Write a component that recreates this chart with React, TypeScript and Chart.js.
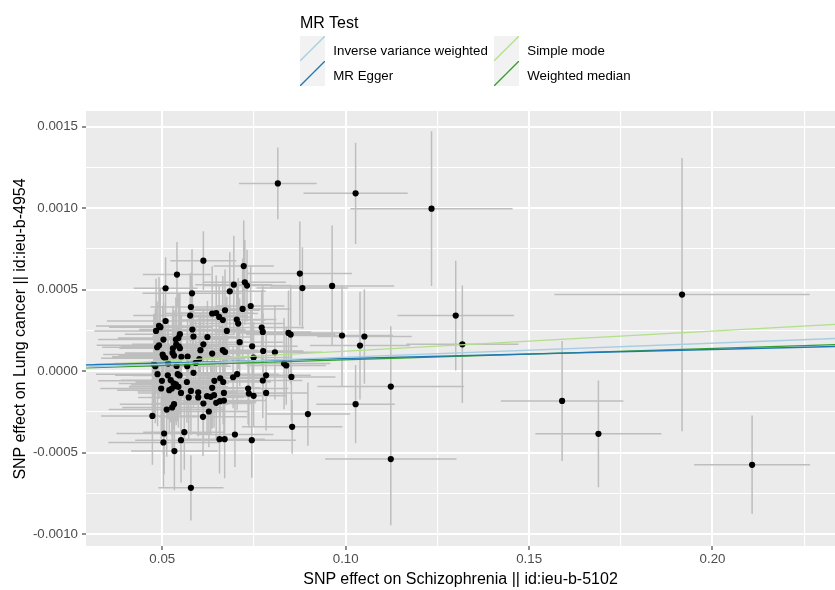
import React, { useEffect, useRef } from "react";
import { Chart, registerables } from "chart.js";

Chart.register(...registerables);

// SNP effects on exposure (Schizophrenia) and outcome (Lung cancer)
const snpX = [
  0.0612, 0.0540, 0.0509, 0.0722, 0.0695, 0.0684, 0.0725, 0.0731, 0.0581, 0.0578,
  0.0671, 0.0636, 0.0647, 0.0655, 0.0665, 0.0719, 0.0741, 0.0576, 0.0509, 0.0703,
  0.0707, 0.0491, 0.0495, 0.0483, 0.0676, 0.0582, 0.0771, 0.0774, 0.0844, 0.0850,
  0.0548, 0.0544, 0.0623, 0.0585, 0.0503, 0.0537, 0.0538, 0.0545, 0.0548, 0.0711,
  0.0612, 0.0491, 0.0486, 0.0745, 0.0529, 0.0604, 0.0665, 0.0671, 0.0807, 0.0775,
  0.0501, 0.0503, 0.0508, 0.0528, 0.0532, 0.0636, 0.0552, 0.0569, 0.0601, 0.0749,
  0.0477, 0.0481, 0.0516, 0.0539, 0.0568, 0.0591, 0.0832, 0.0838, 0.0487, 0.0515,
  0.0542, 0.0547, 0.0585, 0.0499, 0.0523, 0.0531, 0.0537, 0.0567, 0.0642, 0.0658,
  0.0666, 0.0693, 0.0704, 0.0774, 0.0783, 0.0852, 0.0497, 0.0519, 0.0526, 0.0538,
  0.0544, 0.0551, 0.0578, 0.0598, 0.0622, 0.0632, 0.0641, 0.0668, 0.0636, 0.0734,
  0.0736, 0.0749, 0.0783, 0.0572, 0.0598, 0.0647, 0.0657, 0.0668, 0.0612, 0.0532,
  0.0527, 0.0627, 0.0512, 0.0611, 0.0473, 0.0505, 0.0503, 0.0560, 0.0551, 0.0533,
  0.0656, 0.0670, 0.0698, 0.0744, 0.0578,
  0.0815, 0.1027, 0.1234, 0.1300, 0.1318, 0.0990, 0.1051, 0.1039, 0.1123, 0.1123,
  0.1027, 0.0897, 0.0963, 0.0875, 0.0882, 0.1917, 0.1590, 0.1689, 0.2108, 0.0854,
];

const snpY = [
  0.000678, 0.000593, 0.000509, 0.000645, 0.000531, 0.000490, 0.000545, 0.000525, 0.000478, 0.000394,
  0.000374, 0.000354, 0.000357, 0.000333, 0.000314, 0.000382, 0.000400, 0.000341, 0.000308, 0.000317,
  0.000292, 0.000278, 0.000270, 0.000247, 0.000247, 0.000256, 0.000268, 0.000241, 0.000235, 0.000225,
  0.000227, 0.000204, 0.000210, 0.000213, 0.000194, 0.000194, 0.000165, 0.000153, 0.000141, 0.000178,
  0.000165, 0.000159, 0.000147, 0.000153, 0.000141, 0.000129, 0.000129, 0.000118, 0.000116, 0.000124,
  0.000102, 0.000088, 0.000080, 0.000112, 0.000096, 0.000108, 0.000088, 0.000090, 0.000075, 0.000084,
  0.000043, 0.000031, 0.000047, 0.000032, 0.000031, 0.000051, 0.000047, 0.000035, -0.000018, -0.000025,
  -0.000018, -0.000026, -0.000010, -0.000059, -0.000055, -0.000075, -0.000081, -0.000066, -0.000059, -0.000043,
  -0.000066, -0.000037, -0.000018, -0.000057, -0.000025, -0.000035, -0.000106, -0.000116, -0.000106, -0.000092,
  -0.000096, -0.000133, -0.000121, -0.000129, -0.000153, -0.000157, -0.000147, -0.000133, -0.000102, -0.000106,
  -0.000137, -0.000151, -0.000133, -0.000161, -0.000161, -0.000194, -0.000184, -0.000180, -0.000198, -0.000202,
  -0.000222, -0.000247, -0.000235, -0.000280, -0.000274, -0.000382, -0.000437, -0.000374, -0.000423, -0.000490,
  -0.000417, -0.000417, -0.000388, -0.000423, -0.000715,
  0.001152, 0.001091, 0.000997, 0.000341, 0.000165, 0.000219, 0.000213, 0.000157, -0.000094, -0.000539,
  -0.000202, -0.000263, 0.000523, 0.000599, 0.000510, 0.000470, -0.000182, -0.000384, -0.000574, -0.000341,
];

const seX = [
  0.0090, 0.0093, 0.0087, 0.0082, 0.0105, 0.0098, 0.0112, 0.0120, 0.0135, 0.0110,
  0.0095, 0.0125, 0.0102, 0.0088, 0.0118, 0.0130, 0.0092, 0.0155, 0.0160, 0.0108,
  0.0126, 0.0172, 0.0140, 0.0168, 0.0100, 0.0145, 0.0115, 0.0132, 0.0140, 0.0122,
  0.0150, 0.0165, 0.0128, 0.0112, 0.0178, 0.0142, 0.0120, 0.0158, 0.0136, 0.0118,
  0.0104, 0.0170, 0.0150, 0.0124, 0.0146, 0.0112, 0.0096, 0.0134, 0.0128, 0.0110,
  0.0162, 0.0140, 0.0175, 0.0130, 0.0152, 0.0106, 0.0138, 0.0116, 0.0125, 0.0098,
  0.0160, 0.0180, 0.0148, 0.0132, 0.0119, 0.0140, 0.0126, 0.0108, 0.0168, 0.0144,
  0.0155, 0.0128, 0.0112, 0.0174, 0.0136, 0.0150, 0.0122, 0.0140, 0.0100, 0.0118,
  0.0130, 0.0094, 0.0114, 0.0108, 0.0122, 0.0120, 0.0166, 0.0142, 0.0156, 0.0128,
  0.0135, 0.0118, 0.0146, 0.0104, 0.0120, 0.0112, 0.0096, 0.0125, 0.0132, 0.0110,
  0.0102, 0.0090, 0.0114, 0.0138, 0.0124, 0.0108, 0.0100, 0.0116, 0.0130, 0.0148,
  0.0136, 0.0110, 0.0158, 0.0120, 0.0140, 0.0130, 0.0150, 0.0112, 0.0125, 0.0118,
  0.0095, 0.0110, 0.0105, 0.0120, 0.0089,
  0.0106, 0.0142, 0.0221, 0.0159, 0.0153, 0.0139, 0.0129, 0.0136, 0.0200, 0.0179,
  0.0107, 0.0115, 0.0169, 0.0142, 0.0125, 0.0348, 0.0167, 0.0172, 0.0158, 0.0137,
];

const seY = [
  0.00018, 0.00020, 0.00019, 0.00028, 0.00030, 0.00024, 0.00026, 0.00022, 0.00027, 0.00021,
  0.00025, 0.00029, 0.00023, 0.00020, 0.00027, 0.00031, 0.00024, 0.00026, 0.00033, 0.00022,
  0.00028, 0.00030, 0.00024, 0.00032, 0.00021, 0.00027, 0.00023, 0.00029, 0.00026, 0.00030,
  0.00025, 0.00028, 0.00022, 0.00020, 0.00031, 0.00026, 0.00023, 0.00029, 0.00024, 0.00027,
  0.00021, 0.00033, 0.00028, 0.00025, 0.00026, 0.00022, 0.00020, 0.00027, 0.00029, 0.00023,
  0.00030, 0.00025, 0.00034, 0.00024, 0.00028, 0.00021, 0.00026, 0.00023, 0.00025, 0.00022,
  0.00031, 0.00035, 0.00027, 0.00024, 0.00022, 0.00026, 0.00028, 0.00024, 0.00032, 0.00027,
  0.00029, 0.00024, 0.00021, 0.00033, 0.00026, 0.00028, 0.00023, 0.00025, 0.00020, 0.00024,
  0.00026, 0.00019, 0.00022, 0.00023, 0.00025, 0.00027, 0.00031, 0.00026, 0.00029, 0.00024,
  0.00025, 0.00022, 0.00027, 0.00021, 0.00023, 0.00022, 0.00020, 0.00024, 0.00025, 0.00022,
  0.00021, 0.00019, 0.00023, 0.00026, 0.00024, 0.00022, 0.00021, 0.00023, 0.00025, 0.00027,
  0.00026, 0.00022, 0.00029, 0.00024, 0.00030, 0.00025, 0.00028, 0.00023, 0.00026, 0.00024,
  0.00021, 0.00024, 0.00020, 0.00023, 0.00020,
  0.00022, 0.00031, 0.000475, 0.000337, 0.00036, 0.00031, 0.00029, 0.00033, 0.00037, 0.000405,
  0.00024, 0.000194, 0.00037, 0.00032, 0.00025, 0.000838, 0.000368, 0.000327, 0.000302, 0.000165,
];

// MR methods
const methods = ["Inverse variance weighted", "MR Egger", "Simple mode", "Weighted median"];
const methodSlopes = [0.00086, 0.00055, 0.00123, 0.0007];
const methodIntercepts = [0, 0.0000228, 0, 0];
const methodColors = ["#A6CEE3", "#1F78B4", "#B2DF8A", "#33A02C"];

// axes
const xRange = [0.0292, 0.2334];
const yRange = [-0.001072, 0.001596];
const xMajorTicks = [0.05, 0.1, 0.15, 0.2];
const xMinorTicks = [0.075, 0.125, 0.175, 0.225];
const yMajorTicks = [-0.001, -0.0005, 0, 0.0005, 0.001, 0.0015];
const yMinorTicks = [-0.00075, -0.00025, 0.00025, 0.00075, 0.00125];

const xTitle = "SNP effect on Schizophrenia || id:ieu-b-5102";
const yTitle = "SNP effect on Lung cancer || id:ieu-b-4954";
const legendTitle = "MR Test";

const FONT = '"Liberation Sans", Arial, "DejaVu Sans", sans-serif';

const isIn = (arr: number[], v: number) => arr.some((a) => Math.abs(a - v) < 1e-12);

const panelBg = {
  id: "panelBg",
  beforeDraw(chart: any) {
    const { ctx, chartArea } = chart;
    ctx.save();
    ctx.fillStyle = "#EBEBEB";
    ctx.fillRect(chartArea.left, chartArea.top, chartArea.right - chartArea.left, chartArea.bottom - chartArea.top);
    ctx.restore();
  },
};

export default function App() {
  const ref = useRef<HTMLCanvasElement>(null);

  useEffect(() => {
    if (!ref.current) return;
    const errorData: any[] = [];
    snpX.forEach((x, i) => {
      const y = snpY[i];
      errorData.push(
        { x: x - seX[i], y },
        { x: x + seX[i], y },
        { x, y: null },
        { x, y: y - seY[i] },
        { x, y: y + seY[i] },
        { x, y: null }
      );
    });

    const lineSets = methods.map((m, k) => ({
      type: "line",
      label: m,
      data: xRange.map((x) => ({ x, y: methodIntercepts[k] + methodSlopes[k] * x })),
      borderColor: methodColors[k],
      borderWidth: 1.4,
      pointRadius: 0,
      pointHoverRadius: 0,
      fill: false,
      tension: 0,
      order: 0,
    }));

    const xAll = [...xMajorTicks, ...xMinorTicks].sort((a, b) => a - b);
    const yAll = [...yMajorTicks, ...yMinorTicks].sort((a, b) => a - b);

    const chart = new Chart(ref.current, {
      type: "scatter",
      data: {
        datasets: [
          ...(lineSets as any[]),
          {
            type: "scatter",
            label: "SNPs",
            data: snpX.map((x, i) => ({ x, y: snpY[i] })),
            backgroundColor: "#000000",
            borderWidth: 0,
            pointRadius: 3.1,
            pointHoverRadius: 3.1,
            order: 1,
          },
          {
            type: "line",
            label: "errors",
            data: errorData,
            borderColor: "#BEBEBE",
            borderWidth: 1.5,
            pointRadius: 0,
            pointHoverRadius: 0,
            spanGaps: false,
            fill: false,
            tension: 0,
            order: 2,
          },
        ],
      } as any,
      options: {
        animation: false,
        responsive: false,
        events: [],
        layout: { autoPadding: false, padding: { top: 111, left: 0, right: 0, bottom: 0 } },
        plugins: { legend: { display: false }, tooltip: { enabled: false } },
        scales: {
          x: {
            type: "linear",
            min: xRange[0],
            max: xRange[1],
            afterBuildTicks: (s: any) => {
              s.ticks = xAll.map((v) => ({ value: v }));
            },
            afterFit: (s: any) => {
              s.height = 44;
              s.paddingLeft = 0;
              s.paddingRight = 0;
            },
            border: { display: false },
            grid: {
              color: "#FFFFFF",
              lineWidth: (c: any) => (c.tick && isIn(xMajorTicks, c.tick.value) ? 2 : 1.1),
              tickLength: 4,
              tickWidth: 1.1,
              tickColor: (c: any) => (c.tick && isIn(xMajorTicks, c.tick.value) ? "#333333" : "rgba(0,0,0,0)"),
            },
            ticks: {
              autoSkip: false,
              maxRotation: 0,
              minRotation: 0,
              padding: 1,
              color: "#4D4D4D",
              font: { family: FONT, size: 13.3 },
              callback: (v: any) => (isIn(xMajorTicks, Number(v)) ? Number(v).toFixed(2) : ""),
            },
          },
          y: {
            type: "linear",
            min: yRange[0],
            max: yRange[1],
            afterBuildTicks: (s: any) => {
              s.ticks = yAll.map((v) => ({ value: v }));
            },
            afterFit: (s: any) => {
              s.width = 86;
              s.paddingTop = 0;
              s.paddingBottom = 0;
            },
            border: { display: false },
            grid: {
              color: "#FFFFFF",
              lineWidth: (c: any) => (c.tick && isIn(yMajorTicks, c.tick.value) ? 2 : 1.1),
              tickLength: 4,
              tickWidth: 1.1,
              tickColor: (c: any) => (c.tick && isIn(yMajorTicks, c.tick.value) ? "#333333" : "rgba(0,0,0,0)"),
            },
            ticks: {
              autoSkip: false,
              padding: 4,
              color: "#4D4D4D",
              font: { family: FONT, size: 13.3 },
              callback: (v: any) => (isIn(yMajorTicks, Number(v)) ? Number(v).toFixed(4) : ""),
            },
          },
        },
      } as any,
      plugins: [panelBg],
    });
    return () => chart.destroy();
  }, []);

  const keyPos = [
    { left: 300, top: 36.3 },
    { left: 300, top: 61.3 },
    { left: 494, top: 36.3 },
    { left: 494, top: 61.3 },
  ];
  const labelPos = [
    { left: 333.3, top: 44.3 },
    { left: 333.3, top: 69.3 },
    { left: 527.3, top: 44.3 },
    { left: 527.3, top: 69.3 },
  ];

  return (
    <div
      style={{
        position: "absolute",
        left: 0,
        top: 0,
        width: 835,
        height: 590,
        background: "#FFFFFF",
        fontFamily: FONT,
        overflow: "hidden",
      }}
    >
      <canvas ref={ref} width={835} height={590} style={{ position: "absolute", left: 0, top: 0 }} />
      <div
        style={{
          position: "absolute",
          left: 300,
          top: 14.7,
          fontSize: 16,
          lineHeight: "16px",
          color: "#000",
          whiteSpace: "nowrap",
        }}
      >
        {legendTitle}
      </div>
      {methods.map((m, k) => (
        <React.Fragment key={m}>
          <div
            style={{
              position: "absolute",
              left: keyPos[k].left,
              top: keyPos[k].top,
              width: 25,
              height: 25,
              background: "#F2F2F2",
            }}
          >
            <svg width={25} height={25} style={{ display: "block" }}>
              <line x1={0} y1={25} x2={25} y2={0} stroke={methodColors[k]} strokeWidth={1.3} />
            </svg>
          </div>
          <div
            style={{
              position: "absolute",
              left: labelPos[k].left,
              top: labelPos[k].top,
              fontSize: 13.3,
              lineHeight: "13.3px",
              color: "#000",
              whiteSpace: "nowrap",
            }}
          >
            {m}
          </div>
        </React.Fragment>
      ))}
      <div
        style={{
          position: "absolute",
          left: 460.5 - 250,
          top: 570.5,
          width: 500,
          textAlign: "center",
          fontSize: 16,
          lineHeight: "16px",
          color: "#000",
          whiteSpace: "nowrap",
        }}
      >
        {xTitle}
      </div>
      <div
        style={{
          position: "absolute",
          left: 20.3 - 250,
          top: 328.5 - 8,
          width: 500,
          height: 16,
          textAlign: "center",
          fontSize: 16,
          lineHeight: "16px",
          color: "#000",
          whiteSpace: "nowrap",
          transform: "rotate(-90deg)",
          transformOrigin: "50% 50%",
        }}
      >
        {yTitle}
      </div>
    </div>
  );
}
